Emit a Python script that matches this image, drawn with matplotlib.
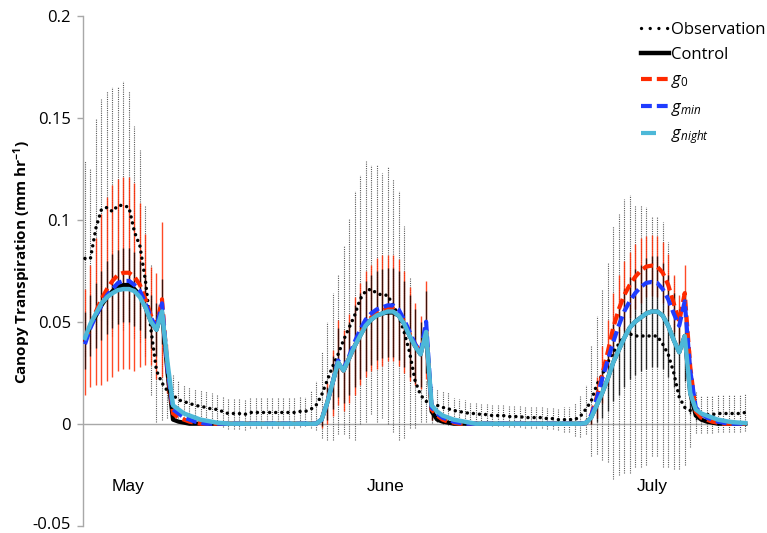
import numpy as np
import matplotlib
matplotlib.use('Agg')
import matplotlib.pyplot as plt
import matplotlib.transforms as mtransforms
from matplotlib.lines import Line2D

plt.rcParams['font.family'] = ['Open Sans', 'DejaVu Sans']
plt.rcParams['mathtext.fontset'] = 'custom'
plt.rcParams['mathtext.rm'] = 'Open Sans'
plt.rcParams['mathtext.it'] = 'Open Sans:italic'
plt.rcParams['mathtext.bf'] = 'Open Sans:bold'

# ---------------- data (half-hourly means, 121 steps) ----------------
series_names = ['Observation', 'Control', r'$g_0$', r'$g_{min}$', r'$g_{night}$']
month_labels = ['May', 'June', 'July']
month_label_pos = [7.8, 54.7, 103.1]
y_ticks = [-0.05, 0, 0.05, 0.1, 0.15, 0.2]
y_tick_labels = ['-0.05', '0', '0.05', '0.1', '0.15', '0.2']

observation = [
    0.081, 0.081, 0.096, 0.105, 0.106, 0.104, 0.107, 0.107, 0.106, 0.094, 0.087, 0.070,
    0.046, 0.026, 0.020, 0.016, 0.014, 0.0117, 0.0108, 0.010, 0.009, 0.0085, 0.008, 0.0072,
    0.007, 0.006, 0.005, 0.005, 0.005, 0.0045, 0.0055, 0.0055, 0.0055, 0.0055, 0.0055, 0.0055,
    0.0055, 0.0055, 0.0055, 0.006,
    0.006, 0.007, 0.009, 0.014, 0.021, 0.028, 0.034, 0.041, 0.047, 0.053, 0.061, 0.065,
    0.066, 0.064, 0.063, 0.063, 0.058, 0.053, 0.045, 0.035, 0.021, 0.014, 0.011, 0.0095,
    0.009, 0.008, 0.0073,
    0.0065, 0.006, 0.0055, 0.005, 0.005, 0.0045, 0.0045, 0.004, 0.004, 0.004, 0.0035, 0.0035,
    0.0035, 0.003, 0.003, 0.003, 0.003, 0.0025, 0.0025, 0.002, 0.002, 0.002, 0.002, 0.0035,
    0.007, 0.011, 0.019, 0.024, 0.030, 0.035, 0.039, 0.043, 0.044, 0.043, 0.043, 0.043,
    0.043, 0.043, 0.039, 0.034, 0.025, 0.013, 0.008, 0.0065, 0.0055,
    0.0045, 0.0045, 0.0045, 0.005, 0.005, 0.005, 0.005, 0.005, 0.0055,
]
observation_err = [
    0.048, 0.044, 0.054, 0.054, 0.057, 0.061, 0.058, 0.061, 0.057, 0.052, 0.047, 0.037,
    0.032, 0.025, 0.018, 0.013, 0.010, 0.009, 0.008, 0.008, 0.008, 0.008, 0.008, 0.008,
    0.0075, 0.0075, 0.0075, 0.0075, 0.0075, 0.0075, 0.0075, 0.0075, 0.0075, 0.0075, 0.0075, 0.0075,
    0.0075, 0.0075, 0.0075, 0.0075,
    0.007, 0.009, 0.012, 0.021, 0.029, 0.036, 0.039, 0.046, 0.054, 0.061, 0.061, 0.064,
    0.061, 0.063, 0.060, 0.063, 0.062, 0.061, 0.052, 0.037, 0.023, 0.013, 0.010, 0.009,
    0.008, 0.008, 0.008,
    0.006, 0.006, 0.006, 0.005, 0.005, 0.005, 0.005, 0.005, 0.005, 0.005, 0.005, 0.005,
    0.005, 0.005, 0.005, 0.005, 0.005, 0.005, 0.005, 0.005, 0.006, 0.006, 0.008, 0.010,
    0.012, 0.027, 0.034, 0.042, 0.049, 0.062, 0.064, 0.067, 0.068, 0.064, 0.064, 0.063,
    0.059, 0.059, 0.060, 0.055, 0.047, 0.035, 0.028, 0.018, 0.010,
    0.009, 0.009, 0.009, 0.009, 0.009, 0.009, 0.009, 0.009, 0.009,
]
control = [
    0.041, 0.048, 0.053, 0.058, 0.062, 0.065, 0.067, 0.068, 0.068, 0.066, 0.063, 0.057,
    0.050, 0.046, 0.055, 0.025, 0.002, 0.001, 0.0005, 0, 0, 0, 0, 0,
    0, 0, 0, 0, 0, 0, 0, 0, 0, 0, 0, 0, 0, 0, 0, 0,
    0, 0, 0.000, 0.002, 0.010, 0.020, 0.030, 0.026, 0.032, 0.038, 0.043, 0.048,
    0.051, 0.053, 0.054, 0.0545, 0.0545, 0.053, 0.049, 0.043, 0.038, 0.034, 0.045, 0.006,
    0.002, 0.001, 0.0005,
    0, 0, 0, 0, 0, 0, 0, 0, 0, 0, 0, 0,
    0, 0, 0, 0, 0, 0, 0, 0, 0, 0, 0, 0,
    0.0003, 0.003, 0.009, 0.015, 0.022, 0.030, 0.036, 0.042, 0.047, 0.050, 0.052, 0.054,
    0.055, 0.055, 0.053, 0.048, 0.041, 0.035, 0.043, 0.015, 0.004,
    0.002, 0.001, 0.0005, 0, 0, 0, 0, 0, 0,
]
control_err = [
    0.014, 0.015, 0.016, 0.017, 0.018, 0.018, 0.018, 0.018, 0.018, 0.018, 0.017, 0.015,
    0.013, 0.013, 0.016, 0.006, 0, 0, 0, 0, 0, 0, 0, 0,
    0, 0, 0, 0, 0, 0, 0, 0, 0, 0, 0, 0, 0, 0, 0, 0,
    0, 0, 0, 0.003, 0.008, 0.013, 0.017, 0.016, 0.018, 0.020, 0.021, 0.022,
    0.022, 0.022, 0.022, 0.022, 0.022, 0.022, 0.021, 0.020, 0.018, 0.016, 0.020, 0.004,
    0, 0, 0,
    0, 0, 0, 0, 0, 0, 0, 0, 0, 0, 0, 0,
    0, 0, 0, 0, 0, 0, 0, 0, 0, 0, 0, 0,
    0, 0.003, 0.008, 0.012, 0.016, 0.019, 0.022, 0.024, 0.025, 0.026, 0.026, 0.027,
    0.027, 0.027, 0.026, 0.025, 0.023, 0.021, 0.022, 0.010, 0.002,
    0, 0, 0, 0, 0, 0, 0, 0, 0,
]
g0 = [
    0.040, 0.048, 0.055, 0.061, 0.066, 0.070, 0.073, 0.074, 0.074, 0.072, 0.068, 0.061,
    0.053, 0.048, 0.061, 0.027, 0.005, 0.003, 0.002, 0.001, 0.0005, 0, 0, 0,
    0, 0, 0, 0, 0, 0, 0, 0, 0, 0, 0, 0, 0, 0, 0, 0,
    0, 0, 0.000, 0.002, 0.010, 0.020, 0.030, 0.026, 0.032, 0.038, 0.044, 0.049,
    0.052, 0.054, 0.0555, 0.0565, 0.0565, 0.0545, 0.050, 0.044, 0.039, 0.035, 0.046, 0.007,
    0.004, 0.002, 0.001,
    0.0005, 0, 0, 0, 0, 0, 0, 0, 0, 0, 0, 0,
    0, 0, 0, 0, 0, 0, 0, 0, 0, 0, 0, 0,
    0.0003, 0.004, 0.013, 0.024, 0.035, 0.047, 0.056, 0.063, 0.068, 0.072, 0.075, 0.077,
    0.0775, 0.077, 0.074, 0.068, 0.059, 0.050, 0.064, 0.028, 0.006,
    0.003, 0.002, 0.001, 0.0005, 0, 0, 0, 0, 0,
]
g0_err = [
    0.026, 0.030, 0.036, 0.042, 0.045, 0.047, 0.047, 0.047, 0.047, 0.046, 0.040, 0.032,
    0.024, 0.026, 0.038, 0.012, 0, 0, 0, 0, 0, 0, 0, 0,
    0, 0, 0, 0, 0, 0, 0, 0, 0, 0, 0, 0, 0, 0, 0, 0,
    0, 0, 0, 0.004, 0.010, 0.016, 0.021, 0.020, 0.022, 0.024, 0.025, 0.026,
    0.026, 0.027, 0.027, 0.026, 0.026, 0.026, 0.025, 0.023, 0.020, 0.018, 0.024, 0.005,
    0, 0, 0,
    0, 0, 0, 0, 0, 0, 0, 0, 0, 0, 0, 0,
    0, 0, 0, 0, 0, 0, 0, 0, 0, 0, 0, 0,
    0, 0.004, 0.010, 0.014, 0.016, 0.017, 0.017, 0.017, 0.016, 0.016, 0.016, 0.015,
    0.015, 0.015, 0.015, 0.015, 0.014, 0.013, 0.014, 0.008, 0.002,
    0, 0, 0, 0, 0, 0, 0, 0, 0,
]
gmin = [
    0.039, 0.047, 0.053, 0.058, 0.063, 0.066, 0.069, 0.070, 0.070, 0.068, 0.065, 0.059,
    0.052, 0.047, 0.059, 0.027, 0.007, 0.005, 0.003, 0.002, 0.001, 0.0005, 0, 0,
    0, 0, 0, 0, 0, 0, 0, 0, 0, 0, 0, 0, 0, 0, 0, 0,
    0, 0, 0.000, 0.002, 0.010, 0.020, 0.031, 0.027, 0.033, 0.040, 0.046, 0.051,
    0.054, 0.056, 0.057, 0.058, 0.058, 0.056, 0.051, 0.045, 0.039, 0.035, 0.050, 0.008,
    0.005, 0.003, 0.002,
    0.001, 0.0005, 0, 0, 0, 0, 0, 0, 0, 0, 0, 0,
    0, 0, 0, 0, 0, 0, 0, 0, 0, 0, 0, 0,
    0.0003, 0.004, 0.012, 0.022, 0.031, 0.040, 0.048, 0.055, 0.060, 0.064, 0.067, 0.069,
    0.0695, 0.069, 0.066, 0.061, 0.054, 0.048, 0.060, 0.026, 0.008,
    0.005, 0.003, 0.002, 0.001, 0.0005, 0, 0, 0, 0,
]
gnight = [
    0.042, 0.049, 0.054, 0.059, 0.062, 0.064, 0.0655, 0.066, 0.066, 0.065, 0.062, 0.057,
    0.050, 0.046, 0.055, 0.030, 0.009, 0.007, 0.005, 0.004, 0.003, 0.002, 0.0015, 0.001,
    0.0005, 0.0003, 0, 0, 0, 0, 0, 0, 0, 0, 0, 0, 0, 0, 0, 0,
    0, 0, 0.000, 0.002, 0.010, 0.020, 0.030, 0.026, 0.032, 0.038, 0.043, 0.048,
    0.051, 0.053, 0.054, 0.055, 0.055, 0.053, 0.049, 0.043, 0.038, 0.034, 0.045, 0.009,
    0.006, 0.004, 0.003,
    0.002, 0.0015, 0.001, 0.0005, 0, 0, 0, 0, 0, 0, 0, 0,
    0, 0, 0, 0, 0, 0, 0, 0, 0, 0, 0, 0,
    0.0003, 0.003, 0.009, 0.015, 0.022, 0.030, 0.036, 0.042, 0.047, 0.050, 0.052, 0.054,
    0.055, 0.055, 0.053, 0.048, 0.041, 0.035, 0.043, 0.015, 0.007,
    0.005, 0.004, 0.003, 0.002, 0.0015, 0.001, 0.0007, 0.0005, 0.0003,
]

# ---------------- styling ----------------
RED = '#ff2a00'
BLUE = '#1f3cff'
CYAN = '#4db8d8'
GRAY = '#a8a8a8'
DOT = (0, (0.01, 1.75))

x = np.arange(len(observation))

fig = plt.figure(figsize=(7.67, 5.33), dpi=100)
ax = fig.add_axes([83.3 / 767, 7.3 / 533, (748 - 83.3) / 767, 510 / 533])

# error bars
eb = ax.errorbar(x, observation, yerr=observation_err, fmt='none', ecolor='#5a5a5a',
                 elinewidth=0.8, capsize=0, zorder=1)
eb[2][0].set_linestyle((0, (1, 1)))
ax.errorbar(x, g0, yerr=g0_err, fmt='none', ecolor=RED, elinewidth=1.0, capsize=0,
            alpha=0.85, zorder=2)
ax.errorbar(x, control, yerr=control_err, fmt='none', ecolor='black', elinewidth=1.0,
            capsize=0, alpha=0.75, zorder=2)

ax.axhline(0, color=GRAY, lw=1, zorder=0.5)

# lines
ax.plot(x, observation, color='black', lw=2.5, linestyle=DOT,
        dash_capstyle='round', zorder=3)
ax.plot(x, control, color='black', lw=3.0, zorder=4)
ax.plot(x, g0, color=RED, lw=3.0, dashes=(2.6, 1.2), zorder=5)
ax.plot(x, gmin, color=BLUE, lw=3.0, dashes=(2.6, 1.2), zorder=6)
ax.plot(x, gnight, color=CYAN, lw=3.2, zorder=7)

ax.set_xlim(-0.3, 120.5)
ax.set_ylim(-0.05, 0.2)
ax.set_xticks([])
ax.set_yticks(y_ticks)
ax.set_yticklabels(y_tick_labels)
for s in ['top', 'right', 'bottom']:
    ax.spines[s].set_visible(False)
ax.spines['left'].set_color(GRAY)
ax.spines['left'].set_linewidth(1)
ax.tick_params(axis='y', colors=GRAY, labelcolor='black', length=4, width=1,
               labelsize=12, pad=5)
ax.patch.set_alpha(0)
# nudge the bottom tick label up so it stays inside the figure
lowest = ax.get_yticklabels()[0]
lowest.set_transform(lowest.get_transform() +
                     mtransforms.ScaledTranslation(0, 3 / 100, fig.dpi_scale_trans))

for lbl, pos in zip(month_labels, month_label_pos):
    ax.text(pos, -0.031, lbl, ha='center', va='center', fontsize=12.5,
            family='Liberation Sans')

fig.text(22 / 767, 1 - 262 / 533, r'Canopy Transpiration (mm hr$^{\mathbf{-1}}$)',
         rotation=90, ha='center', va='center', fontsize=11, fontweight='bold')

handles = [
    Line2D([], [], color='black', lw=2.4, linestyle=(0, (0.01, 2.6)), dash_capstyle='round'),
    Line2D([], [], color='black', lw=3.2),
    Line2D([], [], color=RED, lw=3.0, dashes=(2.6, 1.2)),
    Line2D([], [], color=BLUE, lw=3.0, dashes=(2.6, 1.2)),
    Line2D([], [], color=CYAN, lw=3.0, dashes=(3.6, 20)),
]
fig.legend(handles, series_names, loc='upper left', bbox_to_anchor=(641 / 767, 1 - 22 / 533),
           frameon=False, fontsize=12, handlelength=1.65, handletextpad=0.15,
           labelspacing=0.55, borderpad=0, borderaxespad=0)

fig.savefig('out.png', dpi=100)
